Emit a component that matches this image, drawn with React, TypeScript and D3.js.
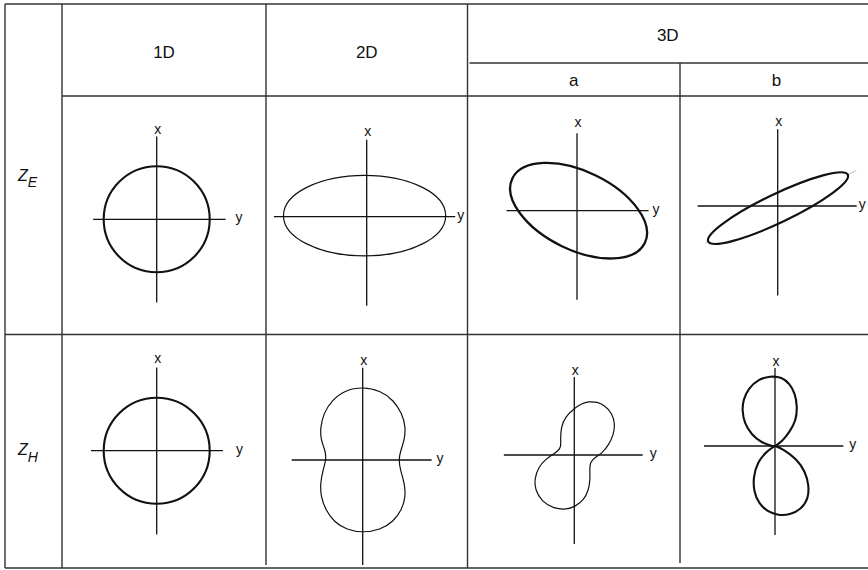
import React from "react";
import * as d3 from "d3";

const W = 868;
const H = 570;

// Header and row labels
const columnLabels = ["1D", "2D", "3D"];
const subColumnLabels = ["a", "b"];
const rowSubscripts = ["E", "H"];
const axisNames = ["x", "y"];

// Z_E row: [centre along y, centre along x, semi-major, semi-minor, tilt in degrees]
const zeCircle1D = [0, 0, 10, 10, 0];
const zeEllipse2D = [-0.4, 0.2, 15.3, 7.6, 0];
const zeEllipse3Da = [0.3, 0, 13.9, 7.4, -26];
const zeEllipse3Db = [0.06, -0.4, 14.6, 2.7, 25.6];
// faint guide along the major axis of the 3D-b ellipse: [from, to]
const zeMajorAxis3Db = [-15.2, 16.4];

// Z_H row
const zhCircle1D = [0, 0, 10, 10, 0];
const zhPeanut2D: [number, number][] = [
  [0, 13.8], [3.3, 13.1], [5.8, 11.3], [7.4, 8.8], [8.1, 6.3], [7.9, 3.8],
  [7.1, 1.6], [6.8, 0], [7.1, -1.9], [7.9, -4.4], [8.1, -6.9], [7.4, -9.4],
  [5.8, -11.6], [3.3, -13.2], [0, -13.7], [-3.0, -13.2], [-5.5, -11.6],
  [-7.0, -9.4], [-7.9, -6.9], [-8.0, -4.4], [-7.5, -1.9], [-6.9, 0],
  [-7.0, 1.6], [-7.9, 3.8], [-8.0, 6.0], [-7.4, 8.8], [-5.8, 11.3], [-3.3, 13.2],
];
const zhTwisted3Da: [number, number][] = [
  [2.7, 10.1], [4.3, 10.0], [5.7, 9.4], [7.1, 7.9], [7.7, 6.0], [7.4, 3.8],
  [6.5, 1.9], [5.2, 0.3], [4.0, -0.4], [3.0, -1.3], [2.9, -2.5], [3.0, -4.7],
  [2.7, -6.6], [1.8, -8.5], [0.2, -9.7], [-1.4, -10.3], [-3.9, -10.1],
  [-6.1, -8.8], [-7.4, -6.6], [-7.5, -4.4], [-6.7, -2.2], [-5.5, -0.9],
  [-4.2, 0], [-3.0, 0.8], [-2.5, 1.6], [-2.6, 2.8], [-2.5, 5.3], [-1.7, 7.2],
  [0, 8.8], [1.4, 9.7],
];
const zhUpperLobe3Db: [number, number][] = [
  [0, 0], [1.3, 0.8], [2.8, 2.7], [4.0, 4.9], [4.2, 7.4], [3.8, 9.9],
  [2.8, 11.7], [1.3, 13.0], [-0.9, 13.2], [-3.1, 12.6], [-5.0, 10.9],
  [-6.0, 8.7], [-6.2, 6.8], [-5.8, 4.3], [-4.4, 2.1], [-2.5, 0.6], [-0.6, 0],
];
const zhLowerLobe3Db: [number, number][] = [
  [0, 0], [1.6, -0.6], [4.1, -2.5], [5.7, -4.8], [6.4, -7.4], [6.3, -9.9],
  [5.0, -11.9], [2.8, -13.0], [0.6, -13.1], [-1.4, -12.4], [-3.1, -10.8],
  [-4.0, -8.6], [-4.1, -5.8], [-3.3, -3.1], [-1.7, -1.1],
];

// Axis reach per cell: [left, right, down, up]
const zeAxes = [
  [12.0, 13.0, 15.7, 15.6],
  [17.5, 16.7, 16.8, 14.5],
  [13.3, 13.5, 16.8, 14.6],
  [15.1, 14.9, 16.9, 14.5],
];
const zhAxes = [
  [12.4, 12.5, 15.8, 15.7],
  [13.4, 13.0, 19.8, 17.4],
  [13.3, 12.9, 16.8, 14.7],
  [13.4, 12.9, 16.8, 14.7],
];

// ---- layout (px) ----
const colEdges = [62, 266, 467.5, 680, W];
const rowEdges = [96, 334.5, 568];
const headerMid = 63;
const leftEdge = 5;
const topEdge = 4;
// origin offset from each cell centre
const originOffsets = [
  [[-7.3, 4.05], [-0.05, 1.45], [3.25, -4.55], [3.7, -9.25]],
  [[-7.3, -0.55], [-4.05, 8.75], [0.55, 3.75], [1.0, -5.25]],
];
// label gaps: [x-label gap above axis, y-label gap right of axis]
const labelGaps = [
  [[3, 10], [4, 2], [6, 4], [3, 2]],
  [[4, 13], [3, 5], [2.5, 7], [2.5, 6]],
];

const LINE = "#333";
const INK = "#111";
const FONT = "'Liberation Sans', Arial, Helvetica, sans-serif";
const THICK = 2.1;
const THIN = 1.2;

const unit = d3.scaleLinear().domain([0, 10]).range([0, 53]);

type Scales = { sx: d3.ScaleLinear<number, number>; sy: d3.ScaleLinear<number, number> };

function cellScales(row: number, col: number): Scales {
  const cx = (colEdges[col] + colEdges[col + 1]) / 2 + originOffsets[row][col][0];
  const cy = (rowEdges[row] + rowEdges[row + 1]) / 2 + originOffsets[row][col][1];
  const k = unit(1);
  const sx = d3.scaleLinear().domain([-1, 1]).range([cx - k, cx + k]);
  const sy = d3.scaleLinear().domain([-1, 1]).range([cy + k, cy - k]);
  return { sx, sy };
}

function Axes({ s, reach, gaps }: { s: Scales; reach: number[]; gaps: number[] }) {
  const { sx, sy } = s;
  const [l, r, d, u] = reach;
  return (
    <g>
      <line x1={sx(-l)} x2={sx(r)} y1={sy(0)} y2={sy(0)} stroke={INK} strokeWidth={1.3} />
      <line x1={sx(0)} x2={sx(0)} y1={sy(-d)} y2={sy(u)} stroke={INK} strokeWidth={1.3} />
      <text x={sx(0) + 1} y={sy(u) - gaps[0]} textAnchor="middle" fontSize={14} fontFamily={FONT} fill={INK}>
        {axisNames[0]}
      </text>
      <text x={sx(r) + gaps[1]} y={sy(0) + 3} fontSize={14} fontFamily={FONT} fill={INK}>
        {axisNames[1]}
      </text>
    </g>
  );
}

function Ellipse({ s, e, w }: { s: Scales; e: number[]; w: number }) {
  const [ex, ey, a, b, tilt] = e;
  const cx = s.sx(ex);
  const cy = s.sy(ey);
  return (
    <ellipse
      cx={cx}
      cy={cy}
      rx={unit(a)}
      ry={unit(b)}
      transform={`rotate(${-tilt} ${cx} ${cy})`}
      fill="none"
      stroke={INK}
      strokeWidth={w}
    />
  );
}

// Smooth closed outline through the read points; `pin` holds the first
// point in place so a lobe keeps its pinch at the origin.
function Closed({ s, pts, w, pin = false }: { s: Scales; pts: [number, number][]; w: number; pin?: boolean }) {
  const seq = pin ? [pts[0], pts[0], ...pts] : pts;
  const gen = d3
    .line<[number, number]>()
    .x((p) => s.sx(p[0]))
    .y((p) => s.sy(p[1]))
    .curve(d3.curveBasisClosed);
  return <path d={gen(seq) || ""} fill="none" stroke={INK} strokeWidth={w} strokeLinejoin="round" />;
}

export default function App() {
  const ze = [0, 1, 2, 3].map((c) => cellScales(0, c));
  const zh = [0, 1, 2, 3].map((c) => cellScales(1, c));

  // guide along the tilted 3D-b major axis, visible only beyond the ellipse tips
  const g = zeEllipse3Db;
  const ang = (g[4] * Math.PI) / 180;
  const along = (t: number) => [g[0] + t * Math.cos(ang), g[1] + t * Math.sin(ang)];
  const guideParts = [
    [along(zeMajorAxis3Db[0]), along(-g[2])],
    [along(g[2]), along(zeMajorAxis3Db[1])],
  ];

  const hLines = [
    { y: topEdge, x1: leftEdge, x2: W },
    { y: headerMid, x1: colEdges[2] + 2, x2: W },
    { y: rowEdges[0], x1: colEdges[0], x2: W },
    { y: rowEdges[1], x1: leftEdge, x2: W },
    { y: rowEdges[2], x1: leftEdge, x2: W },
  ];
  const vLines = [
    { x: leftEdge, y1: topEdge, y2: rowEdges[2] },
    { x: colEdges[0], y1: topEdge, y2: rowEdges[2] },
    { x: colEdges[1], y1: topEdge, y2: rowEdges[2] - 3 },
    { x: colEdges[2], y1: topEdge, y2: rowEdges[2] },
    { x: colEdges[3], y1: headerMid, y2: rowEdges[2] - 5 },
  ];

  const rowLabelY = [180.7, 455];

  return (
    <svg
      width={W}
      height={H}
      viewBox={`0 0 ${W} ${H}`}
      style={{ position: "absolute", left: 0, top: 0, display: "block", background: "#fff" }}
    >
      <rect x={0} y={0} width={W} height={H} fill="#fff" />
      {hLines.map((l, i) => (
        <line key={`h${i}`} x1={l.x1} x2={l.x2} y1={l.y} y2={l.y} stroke={LINE} strokeWidth={1.4} />
      ))}
      {vLines.map((l, i) => (
        <line key={`v${i}`} x1={l.x} x2={l.x} y1={l.y1} y2={l.y2} stroke={LINE} strokeWidth={1.4} />
      ))}

      {/* column headers */}
      <g fontFamily={FONT} fontSize={17} fill={INK} textAnchor="middle">
        <text x={(colEdges[0] + colEdges[1]) / 2} y={58.3}>{columnLabels[0]}</text>
        <text x={(colEdges[1] + colEdges[2]) / 2} y={58.3}>{columnLabels[1]}</text>
        <text x={(colEdges[2] + colEdges[4]) / 2} y={40.7}>{columnLabels[2]}</text>
        <text x={(colEdges[2] + colEdges[3]) / 2} y={86}>{subColumnLabels[0]}</text>
        <text x={(colEdges[3] + colEdges[4]) / 2 + 2.5} y={86}>{subColumnLabels[1]}</text>
      </g>

      {/* row labels */}
      {rowSubscripts.map((sub, i) => (
        <text key={sub} x={18} y={rowLabelY[i]} fontFamily={FONT} fontStyle="italic" fontSize={16} fill={INK}>
          Z
          <tspan fontSize={14} dy={6.5}>
            {sub}
          </tspan>
        </text>
      ))}

      {/* Z_E row */}
      {ze.map((s, c) => (
        <Axes key={`zea${c}`} s={s} reach={zeAxes[c]} gaps={labelGaps[0][c]} />
      ))}
      <Ellipse s={ze[0]} e={zeCircle1D} w={THICK} />
      <Ellipse s={ze[1]} e={zeEllipse2D} w={THIN} />
      <Ellipse s={ze[2]} e={zeEllipse3Da} w={2.3} />
      {guideParts.map((p, i) => (
        <line
          key={`gd${i}`}
          x1={ze[3].sx(p[0][0])}
          y1={ze[3].sy(p[0][1])}
          x2={ze[3].sx(p[1][0])}
          y2={ze[3].sy(p[1][1])}
          stroke="#bbb"
          strokeWidth={1}
        />
      ))}
      <Ellipse s={ze[3]} e={zeEllipse3Db} w={2.2} />

      {/* Z_H row */}
      {zh.map((s, c) => (
        <Axes key={`zha${c}`} s={s} reach={zhAxes[c]} gaps={labelGaps[1][c]} />
      ))}
      <Ellipse s={zh[0]} e={zhCircle1D} w={THICK} />
      <Closed s={zh[1]} pts={zhPeanut2D} w={THIN} />
      <Closed s={zh[2]} pts={zhTwisted3Da} w={THIN} />
      <Closed s={zh[3]} pts={zhUpperLobe3Db} w={THICK} pin />
      <Closed s={zh[3]} pts={zhLowerLobe3Db} w={THICK} pin />
    </svg>
  );
}
